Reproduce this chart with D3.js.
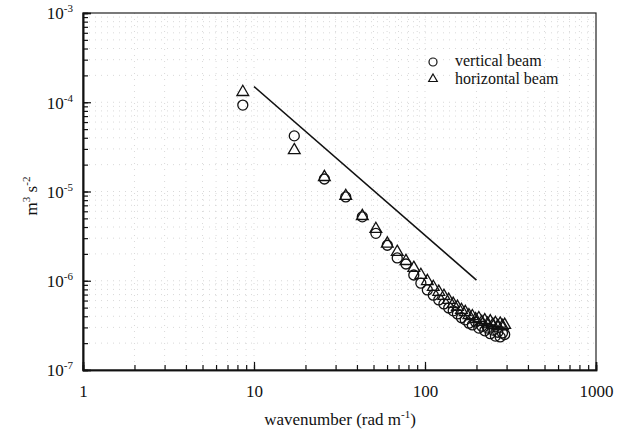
<!DOCTYPE html>
<html><head><meta charset="utf-8">
<script src="https://cdn.jsdelivr.net/npm/d3@7"></script>
<style>body{margin:0;background:#fff}svg{display:block}svg text{font-family:'Liberation Serif','Times New Roman',Times,'DejaVu Serif',serif}</style>
</head><body><svg id="c" width="623" height="436"></svg>
<script>
// wavenumbers (rad/m)
const wavenumber = [8.6,17.2,25.8,34.4,43,51.6,60.2,68.8,77.4,86,94.6,103.2,111.8,120.4,129,137.6,146.2,154.8,163.4,172,180.6,189.2,197.8,206.4,215,223.6,232.2,240.8,249.4,258,266.6,275.2,283.8,292.4];
const verticalBeam = [9.3e-5,4.2e-5,1.38e-5,8.7e-6,5.2e-6,3.4e-6,2.5e-6,1.8e-6,1.54e-6,1.16e-6,9.4e-7,7.9e-7,6.9e-7,6.1e-7,5.5e-7,4.95e-7,4.6e-7,4.25e-7,3.85e-7,3.65e-7,3.35e-7,3.2e-7,3.45e-7,2.95e-7,3.1e-7,2.75e-7,2.95e-7,2.55e-7,2.8e-7,2.4e-7,2.65e-7,2.35e-7,2.6e-7,2.5e-7];
const horizontalBeam = [1.3e-4,2.9e-5,1.45e-5,8.9e-6,5.3e-6,3.8e-6,2.6e-6,2.1e-6,1.66e-6,1.39e-6,1.16e-6,9.9e-7,8.5e-7,7.5e-7,6.75e-7,6.1e-7,5.5e-7,5.1e-7,4.7e-7,4.45e-7,4.1e-7,4.0e-7,3.7e-7,3.8e-7,3.45e-7,3.6e-7,3.3e-7,3.5e-7,3.2e-7,3.35e-7,3.1e-7,3.3e-7,3.1e-7,3.2e-7];
// -5/3 reference line
const refLineK = [10,200];
const refLineE = [1.5e-4, 1.5e-4*Math.pow(20,-5/3)];
const xTickLabels = ["1","10","100","1000"];
const yTickExps = ["-7","-6","-5","-4","-3"];
const legendLabels = ["vertical beam","horizontal beam"];

const svg = d3.select("#c");
const L=83,R=596,T=13,B=370;
const x = d3.scaleLog().domain([1,1000]).range([L,R]);
const y = d3.scaleLog().domain([1e-7,1e-3]).range([B,T]);

const xMinor=[], yMinor=[];
for(let d=0; d<3; d++) for(let m=1;m<=9;m++) xMinor.push(m*Math.pow(10,d));
xMinor.push(1000);
for(let d=-7; d<-3; d++) for(let m=1;m<=9;m++) yMinor.push(m*Math.pow(10,d));
yMinor.push(1e-3);

// faint grid
const grid = svg.append("g").attr("stroke","#cfcfcf").attr("stroke-width",0.8).attr("stroke-dasharray","1,5");
grid.selectAll("line.gx").data(xMinor.slice(1,-1)).join("line").attr("x1",d=>x(d)).attr("x2",d=>x(d)).attr("y1",T).attr("y2",B);
grid.selectAll("line.gy").data(yMinor.slice(1,-1)).join("line").attr("y1",d=>y(d)).attr("y2",d=>y(d)).attr("x1",L).attr("x2",R);

// frame
svg.append("rect").attr("x",L).attr("y",T).attr("width",R-L).attr("height",B-T).attr("fill","none").attr("stroke","#222").attr("stroke-width",1.2);

// axes ticks (inward)
const xMin = d3.axisBottom(x).tickValues(xMinor).tickSize(-5).tickFormat("");
const xMaj = d3.axisBottom(x).tickValues([1,10,100,1000]).tickSize(-8).tickPadding(15).tickFormat((d,i)=>xTickLabels[i]);
const gx1=svg.append("g").attr("transform",`translate(0,${B})`).call(xMin);
const gx2=svg.append("g").attr("transform",`translate(0,${B})`).call(xMaj);
const yMin = d3.axisLeft(y).tickValues(yMinor).tickSize(-5).tickFormat("");
const yMaj = d3.axisLeft(y).tickValues([1e-7,1e-6,1e-5,1e-4,1e-3]).tickSize(-8).tickFormat("");
const gy1=svg.append("g").attr("transform",`translate(${L},0)`).call(yMin);
const gy2=svg.append("g").attr("transform",`translate(${L},0)`).call(yMaj);
[gx1,gx2,gy1,gy2].forEach(g=>{g.attr("font-family",null);g.select(".domain").attr("stroke","#111").attr("stroke-width",1.6);g.selectAll(".tick line").attr("stroke","#111").attr("stroke-width",1.2);});
gx2.selectAll(".tick text").attr("font-size",17).attr("fill","#111");
gy2.selectAll(".tick").each(function(d,i){
  const t=d3.select(this).append("text").attr("x",-10).attr("dy","0.35em").attr("text-anchor","end").attr("font-size",17).attr("fill","#111");
  t.append("tspan").text("10");
  t.append("tspan").attr("dy",-7).attr("font-size",11).text(yTickExps[i]);
});

// reference line
svg.append("line").attr("x1",x(refLineK[0])).attr("y1",y(refLineE[0])).attr("x2",x(refLineK[1])).attr("y2",y(refLineE[1])).attr("stroke","#111").attr("stroke-width",1.6);

// markers
const tri = d3.symbol().type(d3.symbolTriangle).size(60);
svg.append("g").selectAll("circle").data(wavenumber).join("circle")
  .attr("cx",d=>x(d)).attr("cy",(d,i)=>y(verticalBeam[i])).attr("r",5)
  .attr("fill","none").attr("stroke","#111").attr("stroke-width",1.3);
svg.append("g").selectAll("path").data(wavenumber).join("path")
  .attr("d",tri).attr("transform",(d,i)=>`translate(${x(d)},${y(horizontalBeam[i])})`)
  .attr("fill","none").attr("stroke","#111").attr("stroke-width",1.3);

// legend
const lg = svg.append("g").attr("fill","#111");
lg.append("circle").attr("cx",433).attr("cy",62).attr("r",4).attr("fill","none").attr("stroke","#111").attr("stroke-width",1.2);
lg.append("path").attr("d",d3.symbol().type(d3.symbolTriangle).size(32)).attr("transform","translate(433,79)").attr("fill","none").attr("stroke","#111").attr("stroke-width",1.2);
lg.append("text").attr("x",455).attr("y",66).attr("font-size",16).text(legendLabels[0]);
lg.append("text").attr("x",455).attr("y",84).attr("font-size",16).text(legendLabels[1]);

// axis titles
const xt = svg.append("text").attr("x",340).attr("y",425).attr("text-anchor","middle").attr("font-size",17).attr("fill","#111");
xt.append("tspan").text("wavenumber (rad m");
xt.append("tspan").attr("dy",-7).attr("font-size",11).text("-1");
xt.append("tspan").attr("dy",7).text(")");
const yt = svg.append("text").attr("transform","translate(37,196) rotate(-90)").attr("text-anchor","middle").attr("font-size",17).attr("fill","#111");
yt.append("tspan").text("m");
yt.append("tspan").attr("dy",-7).attr("font-size",11).text("3");
yt.append("tspan").attr("dy",7).text(" s");
yt.append("tspan").attr("dy",-7).attr("font-size",11).text("-2");
</script></body></html>
